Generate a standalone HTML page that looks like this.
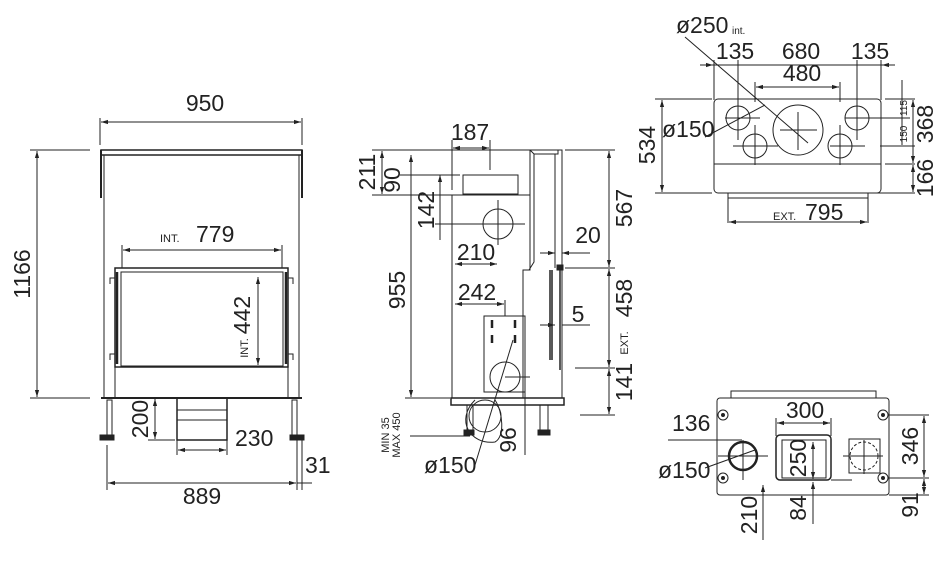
<!DOCTYPE html>
<html><head><meta charset="utf-8"><style>
html,body{margin:0;padding:0;background:#fff}
svg{display:block}
text{font-family:"Liberation Sans",sans-serif;fill:#222}
.t{font-size:23px}
.s{font-size:10px}
</style></head><body>
<svg width="950" height="578" viewBox="0 0 950 578" xmlns="http://www.w3.org/2000/svg">
<defs>
<marker id="a" viewBox="0 0 10 10" refX="10" refY="5" markerWidth="7" markerHeight="7" orient="auto-start-reverse"><path d="M0,2L10,5L0,8z" fill="#222"/></marker>
</defs>
<g fill="none" stroke="#222" stroke-width="1">
<!-- FRONT VIEW -->
<line x1="100" y1="118" x2="100" y2="145"/><line x1="302" y1="118" x2="302" y2="145"/>
<line x1="101" y1="122" x2="301" y2="122" marker-start="url(#a)" marker-end="url(#a)"/>
<rect x="101" y="150" width="201" height="5" stroke-width="1.5"/>
<line x1="101" y1="150" x2="101" y2="198" stroke-width="2"/><line x1="302" y1="150" x2="302" y2="198" stroke-width="2"/>
<line x1="104" y1="155" x2="104" y2="398"/><line x1="299" y1="155" x2="299" y2="398"/>
<line x1="30" y1="150" x2="90" y2="150"/><line x1="30" y1="398" x2="90" y2="398"/>
<line x1="37" y1="151" x2="37" y2="397" marker-start="url(#a)" marker-end="url(#a)"/>
<line x1="122" y1="245" x2="122" y2="268"/><line x1="282" y1="245" x2="282" y2="268"/>
<line x1="123" y1="250" x2="281" y2="250" marker-start="url(#a)" marker-end="url(#a)"/>
<rect x="115" y="268" width="173" height="99" stroke-width="1.5"/>
<rect x="121" y="272" width="162" height="94"/>
<line x1="117" y1="272" x2="117" y2="364" stroke-width="2.5"/><line x1="286" y1="272" x2="286" y2="364" stroke-width="2.5"/>
<path d="M115,278h-5v6M115,354h-5v6M288,278h5v6M288,354h5v6"/>
<line x1="258" y1="277" x2="258" y2="365" marker-start="url(#a)" marker-end="url(#a)"/>
<rect x="115" y="367" width="173" height="31"/>
<line x1="101" y1="398" x2="302" y2="398" stroke-width="2"/>
<rect x="107" y="400" width="5" height="35"/><rect x="292" y="400" width="5" height="35"/>
<rect x="100" y="435" width="14" height="5" fill="#222"/><rect x="290" y="435" width="14" height="5" fill="#222"/>
<line x1="148" y1="440" x2="175" y2="440"/>
<line x1="155" y1="399" x2="155" y2="439" marker-start="url(#a)" marker-end="url(#a)"/>
<rect x="177" y="398" width="50" height="42" stroke-width="1.5"/>
<line x1="177" y1="410" x2="227" y2="410"/><line x1="177" y1="420" x2="227" y2="420"/>
<line x1="177" y1="440" x2="177" y2="455"/><line x1="227" y1="440" x2="227" y2="455"/>
<line x1="178" y1="450" x2="226" y2="450" marker-start="url(#a)" marker-end="url(#a)"/>
<line x1="107" y1="445" x2="107" y2="490"/><line x1="297" y1="440" x2="297" y2="490"/><line x1="302" y1="440" x2="302" y2="490"/>
<line x1="108" y1="483" x2="296" y2="483" marker-start="url(#a)" marker-end="url(#a)"/>
<line x1="297" y1="483" x2="312" y2="483"/>

<!-- SIDE VIEW -->
<line x1="452" y1="140" x2="452" y2="190"/><line x1="490" y1="140" x2="490" y2="170"/>
<line x1="453" y1="148" x2="489" y2="148" marker-start="url(#a)" marker-end="url(#a)"/>
<rect x="463" y="175" width="55" height="19"/>
<path d="M452,195H530V150H562V398"/>
<path d="M530,150l4,4h24v-4"/>
<line x1="555" y1="154" x2="555" y2="268"/>
<path d="M452,195v203M530,195v75h-7v128"/>
<path d="M534,154V262l-5,8"/>
<rect x="451" y="398" width="113" height="7" stroke-width="1.5"/>
<circle cx="498" cy="224" r="15"/><line x1="470" y1="224" x2="525" y2="224"/><line x1="498" y1="200" x2="498" y2="245"/>
<rect x="484" y="316" width="41" height="76"/>
<path d="M492,320v8M515,320v8M492,335v8M515,335v8" stroke-width="2.5"/>
<circle cx="505" cy="377" r="15"/><line x1="505" y1="377" x2="530" y2="377"/>
<path d="M550,270v90M552,270v90" stroke-width="1.5"/><line x1="560" y1="268" x2="560" y2="370" stroke-width="1.5"/>
<rect x="557" y="265" width="6" height="5" fill="#222"/>
<circle cx="485" cy="416" r="16"/>
<path d="M475,400c-20,20 -5,45 20,42c10,-5 8,-30 0,-42"/>
<rect x="467" y="405" width="6" height="25"/><rect x="540" y="405" width="8" height="25"/>
<rect x="464" y="430" width="10" height="5" fill="#222"/><rect x="538" y="430" width="12" height="5" fill="#222"/>
<line x1="372" y1="150" x2="530" y2="150"/><line x1="372" y1="195" x2="452" y2="195"/>
<line x1="382" y1="151" x2="382" y2="194" marker-start="url(#a)" marker-end="url(#a)"/>
<line x1="400" y1="175" x2="460" y2="175"/>
<line x1="411" y1="155" x2="411" y2="397" marker-start="url(#a)" marker-end="url(#a)"/>
<line x1="440" y1="175" x2="440" y2="240" marker-start="url(#a)"/>
<line x1="435" y1="224" x2="470" y2="224"/>
<line x1="405" y1="398" x2="450" y2="398"/><line x1="410" y1="436" x2="470" y2="436"/>
<line x1="455" y1="264" x2="497" y2="264" marker-start="url(#a)" marker-end="url(#a)"/>
<line x1="455" y1="304" x2="504" y2="304" marker-start="url(#a)" marker-end="url(#a)"/>
<line x1="505" y1="300" x2="505" y2="316"/>
<line x1="475" y1="465" x2="513" y2="340"/>
<line x1="525" y1="390" x2="525" y2="455"/>
<line x1="540" y1="253" x2="555" y2="253" marker-end="url(#a)"/><line x1="562" y1="253" x2="590" y2="253" marker-start="url(#a)"/>
<line x1="540" y1="325" x2="555" y2="325" marker-end="url(#a)"/><line x1="562" y1="325" x2="590" y2="325"/>
<line x1="565" y1="150" x2="615" y2="150"/><line x1="565" y1="268" x2="615" y2="268"/><line x1="575" y1="368" x2="615" y2="368"/><line x1="580" y1="415" x2="615" y2="415"/>
<line x1="609" y1="151" x2="609" y2="267" marker-start="url(#a)" marker-end="url(#a)"/>
<line x1="609" y1="269" x2="609" y2="367" marker-start="url(#a)" marker-end="url(#a)"/>
<line x1="609" y1="369" x2="609" y2="414" marker-start="url(#a)" marker-end="url(#a)"/>

<!-- TOP VIEW -->
<rect x="714" y="99" width="167" height="94" rx="4"/>
<line x1="714" y1="164" x2="881" y2="164"/>
<rect x="728" y="193" width="140" height="5"/>
<circle cx="798" cy="130" r="25"/><line x1="780" y1="130" x2="817" y2="130"/><line x1="798" y1="112" x2="798" y2="150"/>
<circle cx="738" cy="118" r="12"/><circle cx="755" cy="146" r="12"/><circle cx="840" cy="146" r="12"/><circle cx="857" cy="118" r="12"/>
<path d="M725,118h35M738,100v40M733,146h45M755,125v40M830,146h35M840,125v40M845,118h65M857,100v40"/>
<line x1="700" y1="65" x2="895" y2="65"/>
<path d="M714,60v40M738,60v40M857,60v40M881,60v40M755,82v20M840,82v20"/>
<line x1="756" y1="87" x2="839" y2="87" marker-start="url(#a)" marker-end="url(#a)"/>
<line x1="705" y1="65" x2="713" y2="65" marker-end="url(#a)"/><line x1="890" y1="65" x2="882" y2="65" marker-end="url(#a)"/>
<line x1="655" y1="99" x2="712" y2="99"/><line x1="655" y1="193" x2="712" y2="193"/>
<line x1="662" y1="100" x2="662" y2="192" marker-start="url(#a)" marker-end="url(#a)"/>
<line x1="685" y1="37" x2="808" y2="143"/>
<line x1="705" y1="137" x2="765" y2="105"/>
<path d="M885,99h30M885,164h30M870,193h45M880,146h35"/>
<line x1="913" y1="100" x2="913" y2="163" marker-start="url(#a)" marker-end="url(#a)"/>
<line x1="913" y1="165" x2="913" y2="192" marker-start="url(#a)" marker-end="url(#a)"/>
<line x1="902" y1="80" x2="902" y2="145"/>
<path d="M728,198v25M868,198v25"/>
<line x1="729" y1="222" x2="867" y2="222" marker-start="url(#a)" marker-end="url(#a)"/>

<!-- BOTTOM VIEW -->
<rect x="731" y="391" width="145" height="7"/>
<rect x="717" y="398" width="172" height="97" rx="3"/>
<circle cx="723" cy="415" r="5"/><circle cx="883" cy="415" r="5"/><circle cx="723" cy="478" r="5"/><circle cx="883" cy="478" r="5"/>
<circle cx="723" cy="415" r="1.5" fill="#222"/><circle cx="883" cy="415" r="1.5" fill="#222"/><circle cx="723" cy="478" r="1.5" fill="#222"/><circle cx="883" cy="478" r="1.5" fill="#222"/>
<circle cx="743" cy="456" r="14" stroke-width="2.5"/>
<path d="M718,456h50M743,440v40"/>
<rect x="776" y="435" width="55" height="45" rx="4" stroke-width="1.5"/>
<rect x="782" y="440" width="44" height="38"/>
<rect x="849" y="439" width="31" height="34"/>
<circle cx="864" cy="456" r="14" stroke-dasharray="3,2"/>
<path d="M843,456h40M864,440v34"/>
<path d="M776,418v18M831,418v18"/>
<line x1="777" y1="423" x2="830" y2="423" marker-start="url(#a)" marker-end="url(#a)"/>
<line x1="668" y1="440" x2="742" y2="440"/>
<line x1="705" y1="468" x2="755" y2="450"/>
<line x1="763" y1="485" x2="763" y2="540" marker-start="url(#a)"/>
<line x1="813" y1="442" x2="813" y2="479" marker-start="url(#a)" marker-end="url(#a)"/>
<line x1="813" y1="482" x2="813" y2="524" marker-start="url(#a)"/>
<line x1="831" y1="480" x2="852" y2="480"/>
<path d="M889,415h40M889,478h40M889,495h40"/>
<line x1="924" y1="416" x2="924" y2="477" marker-start="url(#a)" marker-end="url(#a)"/>
<line x1="924" y1="479" x2="924" y2="494" marker-start="url(#a)" marker-end="url(#a)"/>
</g>

<g>
<text class="t" x="205" y="111" text-anchor="middle">950</text>
<text class="t" transform="translate(30,274) rotate(-90)" text-anchor="middle">1166</text>
<text x="160" y="242" font-size="11">INT.</text><text class="t" x="196" y="242">779</text>
<text class="t" transform="translate(250,315) rotate(-90)" text-anchor="middle">442</text>
<text transform="translate(248,348) rotate(-90)" text-anchor="middle" font-size="11">INT.</text>
<text class="t" transform="translate(148,419) rotate(-90)" text-anchor="middle">200</text>
<text class="t" x="235" y="446">230</text>
<text class="t" x="202" y="504" text-anchor="middle">889</text>
<text class="t" x="305" y="473">31</text>

<text class="t" x="470" y="140" text-anchor="middle">187</text>
<text class="t" transform="translate(375,172) rotate(-90)" text-anchor="middle">211</text>
<text class="t" transform="translate(400,180) rotate(-90)" text-anchor="middle">90</text>
<text class="t" transform="translate(434,210) rotate(-90)" text-anchor="middle">142</text>
<text class="t" transform="translate(405,290) rotate(-90)" text-anchor="middle">955</text>
<text class="t" x="476" y="260" text-anchor="middle">210</text>
<text class="t" x="477" y="300" text-anchor="middle">242</text>
<text class="t" x="588" y="243" text-anchor="middle">20</text>
<text class="t" x="578" y="322" text-anchor="middle">5</text>
<text class="t" transform="translate(632,208) rotate(-90)" text-anchor="middle">567</text>
<text class="t" transform="translate(632,298) rotate(-90)" text-anchor="middle">458</text>
<text transform="translate(628,343) rotate(-90)" text-anchor="middle" font-size="11">EXT.</text>
<text class="t" transform="translate(632,382) rotate(-90)" text-anchor="middle">141</text>
<text transform="translate(389,435) rotate(-90)" text-anchor="middle" font-size="11">MIN 35</text>
<text transform="translate(400,435) rotate(-90)" text-anchor="middle" font-size="11">MAX 450</text>
<text class="t" transform="translate(516,440) rotate(-90)" text-anchor="middle">96</text>
<text class="t" x="424" y="473">ø150</text>

<text class="t" x="676" y="33">ø250</text><text x="732" y="34" font-size="10">int.</text>
<text class="t" x="735" y="59" text-anchor="middle">135</text>
<text class="t" x="801" y="59" text-anchor="middle">680</text>
<text class="t" x="870" y="59" text-anchor="middle">135</text>
<text class="t" x="802" y="81" text-anchor="middle">480</text>
<text class="t" x="662" y="137">ø150</text>
<text class="t" transform="translate(655,145) rotate(-90)" text-anchor="middle">534</text>
<text class="s" transform="translate(907,108) rotate(-90)" text-anchor="middle">115</text>
<text class="s" transform="translate(907,134) rotate(-90)" text-anchor="middle">150</text>
<text class="t" transform="translate(933,124) rotate(-90)" text-anchor="middle">368</text>
<text class="t" transform="translate(933,178) rotate(-90)" text-anchor="middle">166</text>
<text x="773" y="220" font-size="11">EXT.</text><text class="t" x="805" y="220">795</text>

<text class="t" x="805" y="418" text-anchor="middle">300</text>
<text class="t" x="672" y="431">136</text>
<text class="t" x="658" y="478">ø150</text>
<text class="t" transform="translate(806,458) rotate(-90)" text-anchor="middle">250</text>
<text class="t" transform="translate(918,446) rotate(-90)" text-anchor="middle">346</text>
<text class="t" transform="translate(918,505) rotate(-90)" text-anchor="middle">91</text>
<text class="t" transform="translate(757,515) rotate(-90)" text-anchor="middle">210</text>
<text class="t" transform="translate(806,508) rotate(-90)" text-anchor="middle">84</text>
</g>
</svg>
</body></html>
